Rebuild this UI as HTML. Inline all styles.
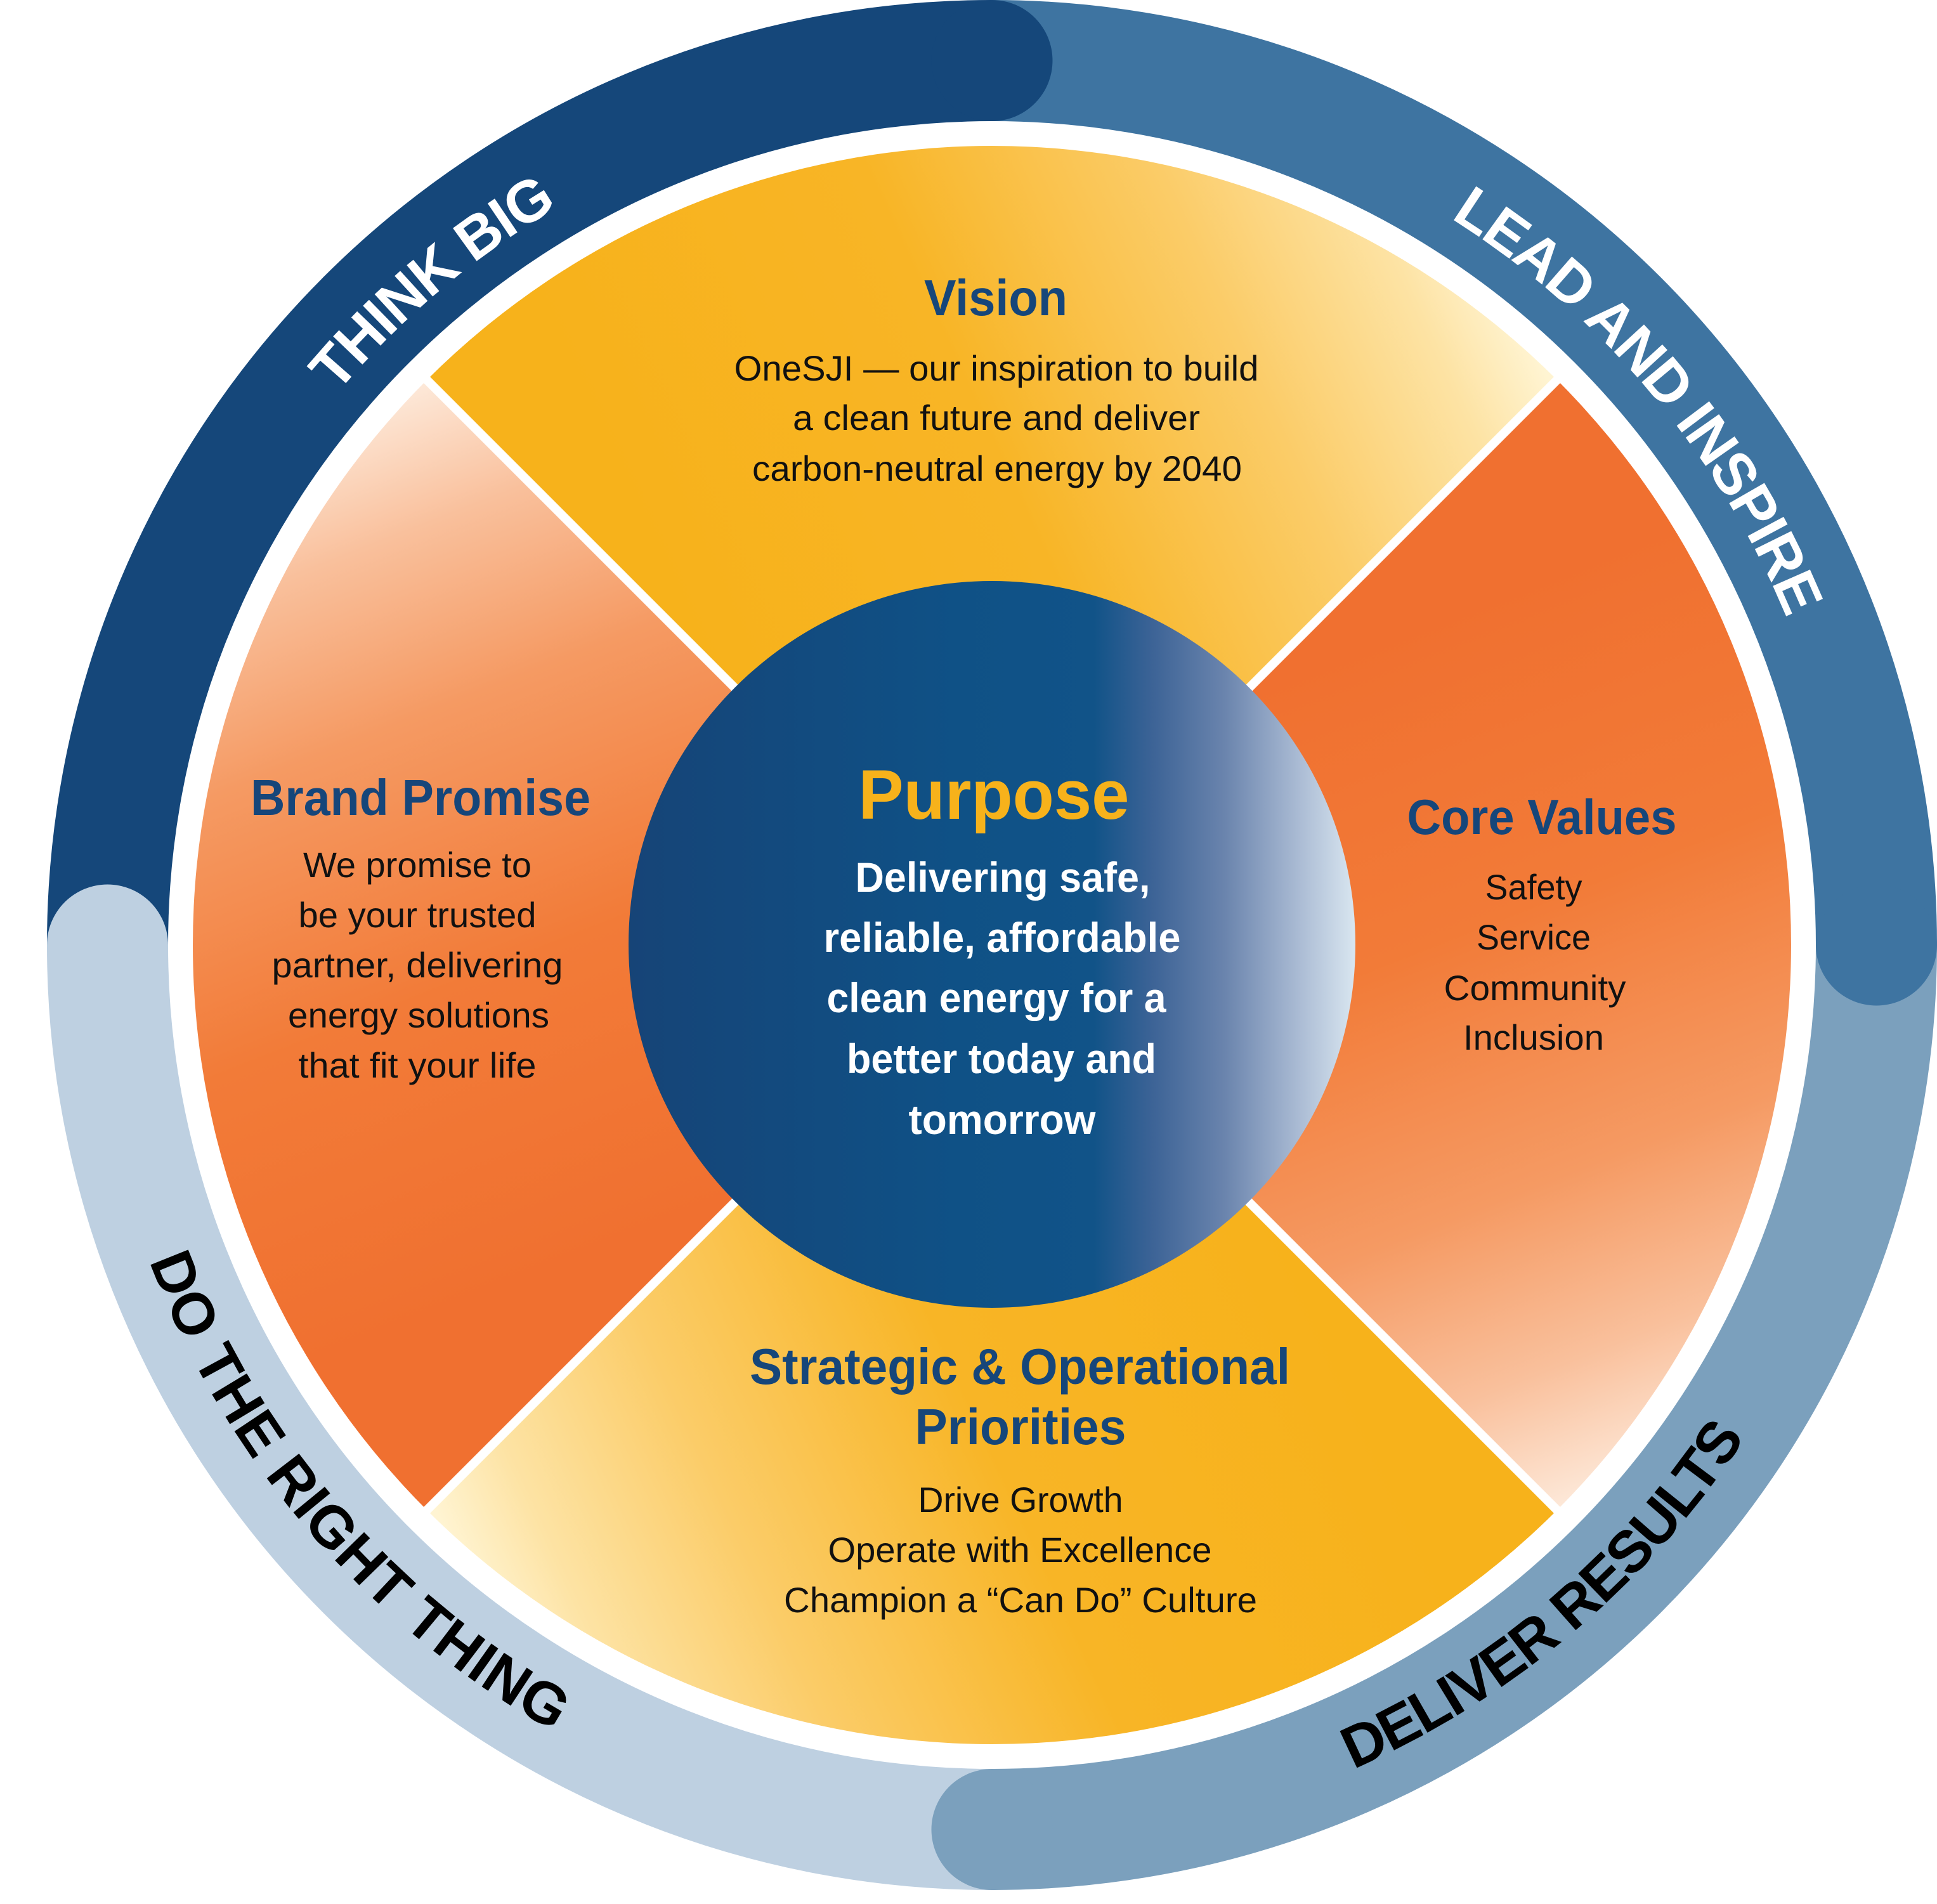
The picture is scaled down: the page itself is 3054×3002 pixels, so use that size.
<!DOCTYPE html>
<html>
<head>
<meta charset="utf-8">
<style>
html,body{margin:0;padding:0;background:#fff;}
svg{display:block;}
.h{font-family:"Liberation Sans",sans-serif;font-weight:bold;fill:#16467a;}
.b{font-family:"Liberation Sans",sans-serif;fill:#111;}
.p{font-family:"Liberation Sans",sans-serif;font-weight:bold;fill:#fff;}
.r{font-family:"Liberation Sans",sans-serif;font-weight:bold;font-size:93px;}
</style>
</head>
<body>
<svg width="3054" height="3002" viewBox="0 0 3054 3002" xmlns="http://www.w3.org/2000/svg">
<defs>
  <linearGradient id="gV" gradientUnits="userSpaceOnUse" x1="1169" y1="1169" x2="2435" y2="584">
    <stop offset="0" stop-color="#f7b21b"/>
    <stop offset="0.4" stop-color="#f8b526"/>
    <stop offset="0.7" stop-color="#fbcc68"/>
    <stop offset="0.9" stop-color="#fde3a4"/>
    <stop offset="1" stop-color="#fff4d2"/>
  </linearGradient>
  <linearGradient id="gS" gradientUnits="userSpaceOnUse" x1="1959" y1="1811" x2="693" y2="2396">
    <stop offset="0" stop-color="#f7b21b"/>
    <stop offset="0.4" stop-color="#f8b526"/>
    <stop offset="0.7" stop-color="#fbcc68"/>
    <stop offset="0.9" stop-color="#fde3a4"/>
    <stop offset="1" stop-color="#fff4d2"/>
  </linearGradient>
  <linearGradient id="gC" gradientUnits="userSpaceOnUse" x1="1948" y1="1091" x2="2454" y2="2377">
    <stop offset="0" stop-color="#f07030"/>
    <stop offset="0.35" stop-color="#f27b38"/>
    <stop offset="0.65" stop-color="#f59a63"/>
    <stop offset="0.85" stop-color="#f9c09c"/>
    <stop offset="1" stop-color="#fde8d8"/>
  </linearGradient>
  <linearGradient id="gB" gradientUnits="userSpaceOnUse" x1="1180" y1="1889" x2="674" y2="603">
    <stop offset="0" stop-color="#f07030"/>
    <stop offset="0.35" stop-color="#f27b38"/>
    <stop offset="0.65" stop-color="#f59a63"/>
    <stop offset="0.85" stop-color="#f9c09c"/>
    <stop offset="1" stop-color="#fde8d8"/>
  </linearGradient>
  <linearGradient id="gP" x1="0" y1="0" x2="1" y2="0">
    <stop offset="0" stop-color="#164477"/>
    <stop offset="0.45" stop-color="#0f5186"/>
    <stop offset="0.64" stop-color="#115388"/>
    <stop offset="0.72" stop-color="#3c6396"/>
    <stop offset="0.82" stop-color="#6a84ad"/>
    <stop offset="0.92" stop-color="#a9bad3"/>
    <stop offset="1" stop-color="#d9e6f0"/>
  </linearGradient>
  <path id="pThink" d="M295.4 1028.3 A1350 1350 0 0 1 1320.3 162.2"/>
  <path id="pLead" d="M1914.7 181.2 A1355 1355 0 0 1 2913.4 1367.2"/>
  <path id="pDeliver" d="M1687.7 2903.6 A1419 1419 0 0 0 2937.2 1847.7"/>
  <path id="pDo" d="M150.4 1613.7 A1419 1419 0 0 0 1232.7 2869.8"/>
</defs>

<!-- Outer ring segments -->
<g fill="none" stroke-width="191" stroke-linecap="butt">
  <path d="M169.5 1490 A1394.5 1394.5 0 0 1 1564 95.5" stroke="#15477a"/>
  <path d="M1564 95.5 A1394.5 1394.5 0 0 1 2958.5 1490" stroke="#3e74a1"/>
  <path d="M2958.5 1490 A1394.5 1394.5 0 0 1 1564 2884.5" stroke="#7ba0bd"/>
  <path d="M1564 2884.5 A1394.5 1394.5 0 0 1 169.5 1490" stroke="#bed0e1"/>
</g>
<!-- rounded caps -->
<circle cx="1564" cy="95.5" r="95.5" fill="#15477a"/>
<circle cx="2958.5" cy="1490" r="95.5" fill="#3e74a1"/>
<circle cx="1564" cy="2884.5" r="95.5" fill="#7ba0bd"/>
<circle cx="169.5" cy="1490" r="95.5" fill="#bed0e1"/>

<!-- Ring labels -->
<text class="r" fill="#fff" letter-spacing="-2"><textPath href="#pThink" startOffset="50%" text-anchor="middle">THINK BIG</textPath></text>
<text class="r" fill="#fff" letter-spacing="-2.5"><textPath href="#pLead" startOffset="50%" text-anchor="middle">LEAD AND INSPIRE</textPath></text>
<text class="r" fill="#000" letter-spacing="-2.5"><textPath href="#pDeliver" startOffset="50%" text-anchor="middle">DELIVER RESULTS</textPath></text>
<text class="r" fill="#000" letter-spacing="1"><textPath href="#pDo" startOffset="50%" text-anchor="middle">DO THE RIGHT THING</textPath></text>

<!-- Quadrants -->
<path d="M1564 1490 L673.05 599.05 A1260 1260 0 0 1 2454.95 599.05 Z" fill="url(#gV)"/>
<path d="M1564 1490 L2454.95 599.05 A1260 1260 0 0 1 2454.95 2380.95 Z" fill="url(#gC)"/>
<path d="M1564 1490 L2454.95 2380.95 A1260 1260 0 0 1 673.05 2380.95 Z" fill="url(#gS)"/>
<path d="M1564 1490 L673.05 2380.95 A1260 1260 0 0 1 673.05 599.05 Z" fill="url(#gB)"/>
<g stroke="#fff" stroke-width="14">
  <line x1="668" y1="594" x2="2460" y2="2386"/>
  <line x1="2460" y1="594" x2="668" y2="2386"/>
</g>

<!-- Center circle -->
<circle cx="1564" cy="1489" r="573" fill="url(#gP)"/>

<!-- Vision -->
<text class="h" x="1570" y="497" font-size="80" text-anchor="middle" textLength="226" lengthAdjust="spacingAndGlyphs">Vision</text>
<text class="b" font-size="56" text-anchor="middle">
  <tspan x="1571" y="600" textLength="827" lengthAdjust="spacingAndGlyphs">OneSJI — our inspiration to build</tspan>
</text>
<text class="b" x="1571" y="678" font-size="56" text-anchor="middle" textLength="642" lengthAdjust="spacingAndGlyphs">a clean future and deliver</text>
<text class="b" x="1572" y="758" font-size="56" text-anchor="middle" textLength="772" lengthAdjust="spacingAndGlyphs">carbon-neutral energy by 2040</text>

<!-- Brand Promise -->
<text class="h" x="663" y="1285" font-size="80" text-anchor="middle" textLength="536" lengthAdjust="spacingAndGlyphs">Brand Promise</text>
<text class="b" x="658" y="1383" font-size="56" text-anchor="middle" textLength="360" lengthAdjust="spacingAndGlyphs">We promise to</text>
<text class="b" x="658" y="1462" font-size="56" text-anchor="middle" textLength="375" lengthAdjust="spacingAndGlyphs">be your trusted</text>
<text class="b" x="658" y="1541" font-size="56" text-anchor="middle" textLength="459" lengthAdjust="spacingAndGlyphs">partner, delivering</text>
<text class="b" x="660" y="1620" font-size="56" text-anchor="middle" textLength="412" lengthAdjust="spacingAndGlyphs">energy solutions</text>
<text class="b" x="658" y="1699" font-size="56" text-anchor="middle" textLength="375" lengthAdjust="spacingAndGlyphs">that fit your life</text>

<!-- Core Values -->
<text class="h" x="2431" y="1315" font-size="78" text-anchor="middle" textLength="425" lengthAdjust="spacingAndGlyphs">Core Values</text>
<text class="b" x="2418" y="1418" font-size="56" text-anchor="middle" textLength="153" lengthAdjust="spacingAndGlyphs">Safety</text>
<text class="b" x="2418" y="1497" font-size="56" text-anchor="middle" textLength="180" lengthAdjust="spacingAndGlyphs">Service</text>
<text class="b" x="2420" y="1577" font-size="56" text-anchor="middle" textLength="287" lengthAdjust="spacingAndGlyphs">Community</text>
<text class="b" x="2418" y="1655" font-size="56" text-anchor="middle" textLength="222" lengthAdjust="spacingAndGlyphs">Inclusion</text>

<!-- Strategic -->
<text class="h" x="1608" y="2182" font-size="80" text-anchor="middle" textLength="852" lengthAdjust="spacingAndGlyphs">Strategic &amp; Operational</text>
<text class="h" x="1609" y="2277" font-size="80" text-anchor="middle" textLength="333" lengthAdjust="spacingAndGlyphs">Priorities</text>
<text class="b" x="1609" y="2384" font-size="56" text-anchor="middle" textLength="323" lengthAdjust="spacingAndGlyphs">Drive Growth</text>
<text class="b" x="1608" y="2463" font-size="56" text-anchor="middle" textLength="605" lengthAdjust="spacingAndGlyphs">Operate with Excellence</text>
<text class="b" x="1609" y="2542" font-size="56" text-anchor="middle" textLength="746" lengthAdjust="spacingAndGlyphs">Champion a “Can Do” Culture</text>

<!-- Purpose -->
<text class="h" x="1567" y="1291" font-size="110" fill="#f7b21b" style="fill:#f7b21b" text-anchor="middle" textLength="427" lengthAdjust="spacingAndGlyphs">Purpose</text>
<text class="p" x="1581" y="1406" font-size="66" text-anchor="middle" textLength="465" lengthAdjust="spacingAndGlyphs">Delivering safe,</text>
<text class="p" x="1580" y="1501" font-size="66" text-anchor="middle" textLength="563" lengthAdjust="spacingAndGlyphs">reliable, affordable</text>
<text class="p" x="1571" y="1596" font-size="66" text-anchor="middle" textLength="535" lengthAdjust="spacingAndGlyphs">clean energy for a</text>
<text class="p" x="1579" y="1692" font-size="66" text-anchor="middle" textLength="488" lengthAdjust="spacingAndGlyphs">better today and</text>
<text class="p" x="1580" y="1788" font-size="66" text-anchor="middle" textLength="295" lengthAdjust="spacingAndGlyphs">tomorrow</text>
</svg>
</body>
</html>
